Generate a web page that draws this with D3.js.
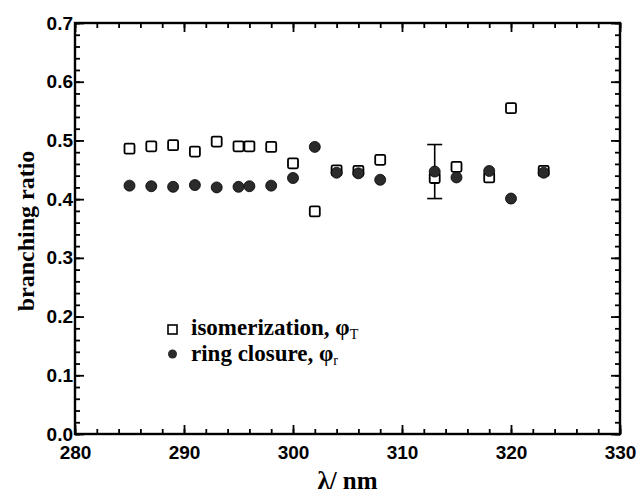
<!DOCTYPE html>
<html>
  <head>
    <meta charset="utf-8">
    <script src="https://d3js.org/d3.v7.min.js"></script>
    <style>
      body { margin: 0; background: #fff; }
      .tick text { font-family: 'Liberation Sans', Arial, sans-serif; font-weight: bold; font-size: 19px; fill: #000; }
      .serif { font-family: 'Liberation Serif', 'Times New Roman', serif; font-weight: bold; fill: #000; }
    </style>
  </head>
  <body>
    <svg></svg>
    <script>
      // wavelengths (nm) and branching ratios
      var isoX = [285, 287, 289, 291, 293, 295, 296, 298, 300, 302, 304, 306, 308, 313, 315, 318, 320, 323];
      var isoY = [0.486, 0.490, 0.492, 0.481, 0.498, 0.490, 0.490, 0.489, 0.461, 0.379, 0.449, 0.448, 0.467, 0.436, 0.455, 0.437, 0.555, 0.448];
      var ringX = [285, 287, 289, 291, 293, 295, 296, 298, 300, 302, 304, 306, 308, 313, 315, 318, 320, 323];
      var ringY = [0.423, 0.422, 0.421, 0.424, 0.420, 0.421, 0.422, 0.423, 0.436, 0.489, 0.445, 0.444, 0.433, 0.447, 0.437, 0.448, 0.401, 0.445];
      // the one error bar on the plot
      var errX = [313];
      var errLo = [0.401];
      var errHi = [0.493];
      var xTicks = [280, 290, 300, 310, 320, 330];
      var yTicks = [0.0, 0.1, 0.2, 0.3, 0.4, 0.5, 0.6, 0.7];

      var width = 641, height = 496;
      var margin = {top: 23, right: 21, bottom: 62, left: 75};

      var svg = d3.select('svg')
        .attr('width', width)
        .attr('height', height);

      var x = d3.scaleLinear().domain([280, 330]).range([margin.left, width - margin.right]);
      var y = d3.scaleLinear().domain([0, 0.7]).range([height - margin.bottom, margin.top]);

      var xMinor = d3.range(280, 331, 2);
      var yMinor = d3.range(0, 0.701, 0.02);

      function tidy(g) {
        g.select('.domain').remove();
        g.selectAll('.tick line').attr('stroke', '#000').attr('stroke-width', 1.8);
      }

      // major + minor ticks on all four sides, pointing inward
      svg.append('g').attr('transform', 'translate(0,' + y(0) + ')')
        .call(d3.axisBottom(x).tickValues(xTicks).tickSize(-9).tickPadding(12).tickFormat(d3.format('d')))
        .call(tidy);
      svg.append('g').attr('transform', 'translate(0,' + y(0) + ')')
        .call(d3.axisBottom(x).tickValues(xMinor).tickSize(-5).tickFormat(''))
        .call(tidy);
      svg.append('g').attr('transform', 'translate(0,' + y(0.7) + ')')
        .call(d3.axisTop(x).tickValues(xTicks).tickSize(-9).tickFormat(''))
        .call(tidy);
      svg.append('g').attr('transform', 'translate(0,' + y(0.7) + ')')
        .call(d3.axisTop(x).tickValues(xMinor).tickSize(-5).tickFormat(''))
        .call(tidy);
      svg.append('g').attr('transform', 'translate(' + x(280) + ',0)')
        .call(d3.axisLeft(y).tickValues(yTicks).tickSize(-9).tickPadding(2).tickFormat(d3.format('.1f')))
        .call(tidy);
      svg.append('g').attr('transform', 'translate(' + x(280) + ',0)')
        .call(d3.axisLeft(y).tickValues(yMinor).tickSize(-5).tickFormat(''))
        .call(tidy);
      svg.append('g').attr('transform', 'translate(' + x(330) + ',0)')
        .call(d3.axisRight(y).tickValues(yTicks).tickSize(-9).tickFormat(''))
        .call(tidy);
      svg.append('g').attr('transform', 'translate(' + x(330) + ',0)')
        .call(d3.axisRight(y).tickValues(yMinor).tickSize(-5).tickFormat(''))
        .call(tidy);

      // frame
      svg.append('rect')
        .attr('x', x(280)).attr('y', y(0.7))
        .attr('width', x(330) - x(280)).attr('height', y(0) - y(0.7))
        .attr('fill', 'none').attr('stroke', '#000').attr('stroke-width', 2.4);

      // error bar
      var eb = svg.append('g').attr('stroke', '#000').attr('stroke-width', 1.6);
      errX.forEach(function (v, i) {
        eb.append('line').attr('x1', x(v)).attr('x2', x(v)).attr('y1', y(errLo[i])).attr('y2', y(errHi[i]));
        eb.append('line').attr('x1', x(v) - 7.5).attr('x2', x(v) + 7.5).attr('y1', y(errLo[i])).attr('y2', y(errLo[i]));
        eb.append('line').attr('x1', x(v) - 7.5).attr('x2', x(v) + 7.5).attr('y1', y(errHi[i])).attr('y2', y(errHi[i]));
      });

      // isomerization: open squares
      var s = 10;
      svg.append('g').selectAll('rect')
        .data(isoX)
        .enter().append('rect')
        .attr('x', function (d) { return x(d) - s / 2; })
        .attr('y', function (d, i) { return y(isoY[i]) - s / 2; })
        .attr('width', s).attr('height', s).attr('rx', 1.5)
        .attr('fill', '#fff').attr('stroke', '#000').attr('stroke-width', 1.8);

      // ring closure: filled circles
      svg.append('g').selectAll('circle')
        .data(ringX)
        .enter().append('circle')
        .attr('cx', function (d) { return x(d); })
        .attr('cy', function (d, i) { return y(ringY[i]); })
        .attr('r', 5.5)
        .attr('fill', '#2b2b2b').attr('stroke', '#000').attr('stroke-width', 0.8);

      // legend
      var lg = svg.append('g');
      lg.append('rect').attr('x', 168).attr('y', 325).attr('width', 9).attr('height', 9)
        .attr('fill', '#fff').attr('stroke', '#000').attr('stroke-width', 1.6);
      lg.append('circle').attr('cx', 172.5).attr('cy', 354).attr('r', 4.5).attr('fill', '#2b2b2b');
      var t1 = lg.append('text').attr('class', 'serif').attr('x', 191).attr('y', 335).style('font-size', '23px');
      t1.append('tspan').text('isomerization, φ');
      t1.append('tspan').attr('dy', 4).style('font-size', '14px').style('font-weight', 'normal').text('T');
      var t2 = lg.append('text').attr('class', 'serif').attr('x', 191).attr('y', 361).style('font-size', '23px');
      t2.append('tspan').text('ring closure, φ');
      t2.append('tspan').attr('dy', 4).style('font-size', '14px').style('font-weight', 'normal').text('r');

      // axis titles
      svg.append('text').attr('class', 'serif')
        .attr('transform', 'translate(34,' + 231 + ')rotate(-90)')
        .attr('text-anchor', 'middle').style('font-size', '24px')
        .text('branching ratio');
      svg.append('text').attr('class', 'serif')
        .attr('x', x(305)).attr('y', 489)
        .attr('text-anchor', 'middle').style('font-size', '25px')
        .text('λ/ nm');
    </script>
  </body>
</html>
